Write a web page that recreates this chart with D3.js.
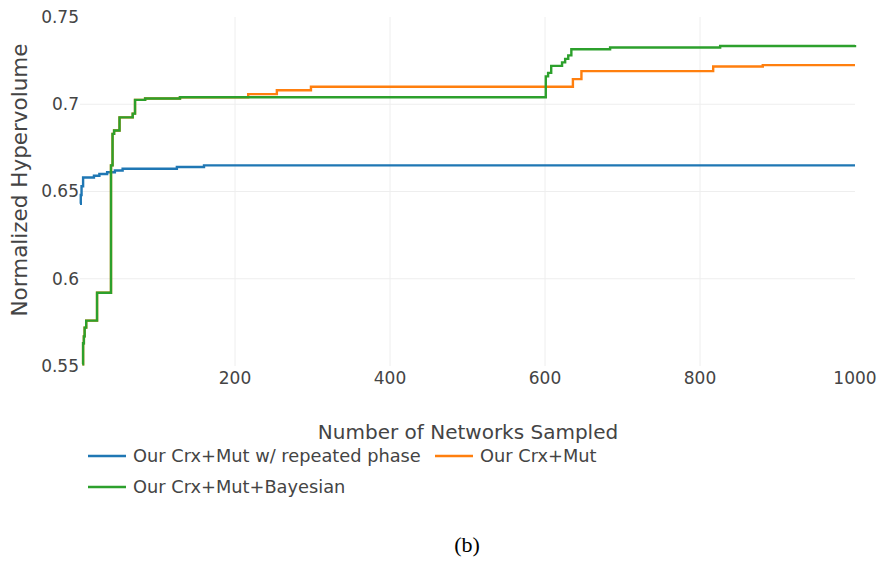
<!DOCTYPE html>
<html>
<head>
<meta charset="utf-8">
<script src="https://cdn.jsdelivr.net/npm/d3@7"></script>
<style>
  body { margin: 0; background: #fff; }
  svg { display: block; font-family: "DejaVu Sans", sans-serif; }
  .grid line { stroke: #eee; stroke-width: 1; }
  .tick-label { fill: #444; font-size: 17px; }
  .axis-title { fill: #444; font-size: 20px; }
  .y-title { font-size: 21.5px; }
  .legend-text { fill: #444; font-size: 17.8px; }
  .caption { font-family: "Liberation Serif", serif; font-size: 22px; fill: #000; }
</style>
</head>
<body>
<svg id="chart" width="880" height="561"></svg>
<script>
// tick values
const xTicks = [200, 400, 600, 800, 1000];
const yTicks = [0.55, 0.6, 0.65, 0.7, 0.75];
const yTickLabels = ['0.55', '0.6', '0.65', '0.7', '0.75'];

// series: [networks sampled, normalized hypervolume]
const repeatedPhase = [
  [0, 0.643], [1, 0.648], [2, 0.653], [4, 0.658], [18, 0.659], [25, 0.660], [35, 0.661],
  [45, 0.662], [55, 0.663], [125, 0.664], [160, 0.665], [1000, 0.665]
];
const bayesian = [
  [3, 0.551], [4, 0.563], [5, 0.567], [6, 0.572], [8, 0.576], [22, 0.592],
  [40, 0.665], [42, 0.683], [44, 0.685], [51, 0.6925], [68, 0.6946], [71, 0.7025],
  [84, 0.7033], [129, 0.704], [601, 0.716], [604, 0.718], [608, 0.722], [622, 0.724],
  [626, 0.726], [630, 0.728], [634, 0.7315], [684, 0.7325], [826, 0.7334], [1000, 0.734]
];
const crxMut = [
  [3, 0.551], [4, 0.563], [5, 0.567], [6, 0.572], [8, 0.576], [22, 0.592],
  [40, 0.665], [42, 0.683], [44, 0.685], [51, 0.6925], [68, 0.6946], [71, 0.7025],
  [84, 0.7033], [129, 0.704], [217, 0.7058], [254, 0.708], [298, 0.710],
  [636, 0.7144], [647, 0.719], [817, 0.7216], [881, 0.7224], [1000, 0.7224]
];

const seriesNames = ['Our Crx+Mut w/ repeated phase', 'Our Crx+Mut', 'Our Crx+Mut+Bayesian'];
const seriesColors = ['#1f77b4', '#ff7f0e', '#2ca02c'];
const seriesData = [repeatedPhase, crxMut, bayesian];

const svg = d3.select('#chart');

const x = d3.scaleLinear().domain([0, 1000]).range([80, 855]);
const y = d3.scaleLinear().domain([0.55, 0.75]).range([366, 17]);

// Gridlines
const grid = svg.append('g').attr('class', 'grid');
grid.selectAll('.gx')
  .data(xTicks.filter(d => d < 1000))
  .join('line')
  .attr('x1', d => x(d)).attr('x2', d => x(d))
  .attr('y1', y(0.75)).attr('y2', y(0.55));
grid.selectAll('.gy')
  .data(yTicks.filter(d => d > 0.55 && d < 0.75))
  .join('line')
  .attr('x1', x(0)).attr('x2', x(1000))
  .attr('y1', d => y(d)).attr('y2', d => y(d));

// Tick labels
svg.append('g').selectAll('text')
  .data(xTicks)
  .join('text')
  .attr('class', 'tick-label')
  .attr('x', d => x(d))
  .attr('y', 378)
  .attr('dy', '0.35em')
  .attr('text-anchor', 'middle')
  .text(d => d);

svg.append('g').selectAll('text')
  .data(yTicks)
  .join('text')
  .attr('class', 'tick-label')
  .attr('x', 79)
  .attr('y', d => y(d))
  .attr('dy', '0.35em')
  .attr('text-anchor', 'end')
  .text((d, i) => yTickLabels[i]);

// Axis titles
svg.append('text')
  .attr('class', 'axis-title')
  .attr('x', 468)
  .attr('y', 432)
  .attr('dy', '0.35em')
  .attr('text-anchor', 'middle')
  .text('Number of Networks Sampled');

svg.append('text')
  .attr('class', 'axis-title y-title')
  .attr('transform', 'translate(19,180) rotate(-90)')
  .attr('dy', '0.35em')
  .attr('text-anchor', 'middle')
  .text('Normalized Hypervolume');

// Lines
const line = d3.line()
  .x(d => x(d[0]))
  .y(d => y(d[1]))
  .curve(d3.curveStepAfter);

svg.append('g').selectAll('path')
  .data(seriesData)
  .join('path')
  .attr('fill', 'none')
  .attr('stroke', (d, i) => seriesColors[i])
  .attr('stroke-width', 2.4)
  .attr('d', line);

// Legend
const legendPos = [[88, 456], [435, 456], [88, 487]];
const legend = svg.append('g').selectAll('g')
  .data(seriesNames)
  .join('g')
  .attr('transform', (d, i) => `translate(${legendPos[i][0]},${legendPos[i][1]})`);
legend.append('line')
  .attr('x1', 0).attr('x2', 38)
  .attr('stroke', (d, i) => seriesColors[i])
  .attr('stroke-width', 2.4);
legend.append('text')
  .attr('class', 'legend-text')
  .attr('x', 45)
  .attr('dy', '0.35em')
  .text(d => d);

// Caption
svg.append('text')
  .attr('class', 'caption')
  .attr('x', 467)
  .attr('y', 544)
  .attr('dy', '0.35em')
  .attr('text-anchor', 'middle')
  .text('(b)');
</script>
</body>
</html>
